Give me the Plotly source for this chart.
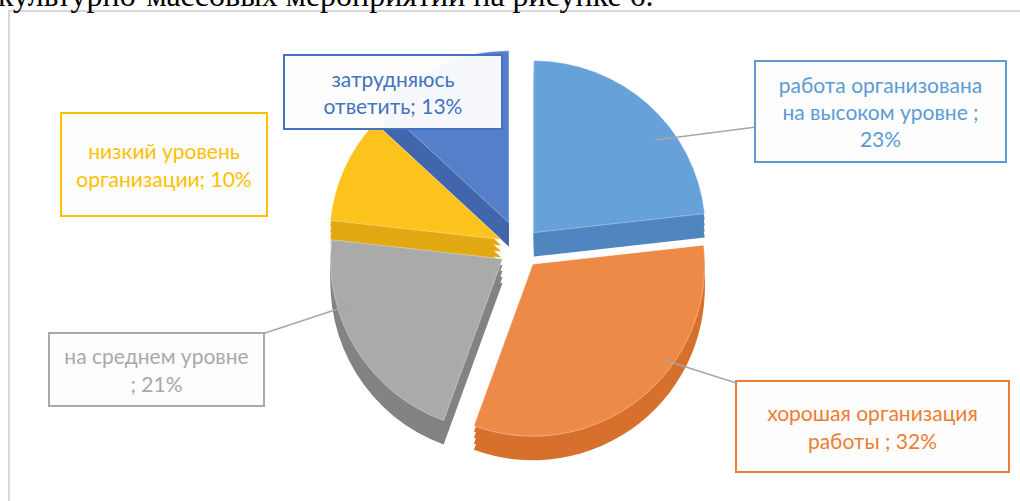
import plotly.graph_objects as go

# ---- data ----
categories = [
    "работа организована на высоком уровне",
    "хорошая организация работы",
    "на среднем уровне",
    "низкий уровень организации",
    "затрудняюсь ответить",
]
values = [23, 32, 21, 10, 13]
label_templates = [
    "работа организована<br>на высоком уровне ;<br>{v}%",
    "хорошая организация<br>работы ; {v}%",
    "на среднем уровне<br>; {v}%",
    "низкий уровень<br>организации; {v}%",
    "затрудняюсь<br>ответить; {v}%",
]
caption_text = "культурно-массовых мероприятий на рисунке 6."

# ---- styles ----
top_colors = ["#67a1d9", "#ee8a47", "#aaaaaa", "#fcc31c", "#5580c9"]
side_colors = ["#4f86c0", "#d6702c", "#838383", "#e2a912", "#4266ab"]
text_colors = ["#5b9bd5", "#ed7d31", "#a9a9a9", "#ffc000", "#4472c4"]
pulls = [0.12, 0.12, 0.12, 0.12, 0.16]

W, H = 1020, 501
R = 172
cx, cy = 520, 248
depth = 24
half = R * (1 + max(pulls))


def dom(px_cx, px_cy):
    return dict(x=[(px_cx - half) / W, (px_cx + half) / W],
                y=[1 - (px_cy + half) / H, 1 - (px_cy - half) / H])


fig = go.Figure()

# side layers (3D thickness)
for k in (1.0, 0.75, 0.5, 0.25):
    fig.add_trace(go.Pie(
        labels=categories, values=values, sort=False, direction="clockwise",
        rotation=0, pull=pulls, textinfo="none", hoverinfo="skip",
        marker=dict(colors=side_colors, line=dict(width=0)),
        domain=dom(cx, cy + depth * k), showlegend=False,
    ))

# top surface
fig.add_trace(go.Pie(
    labels=categories, values=values, sort=False, direction="clockwise",
    rotation=0, pull=pulls, textinfo="none", hoverinfo="label+percent",
    marker=dict(colors=top_colors, line=dict(width=0.6, color="rgba(255,255,255,0.6)")),
    domain=dom(cx, cy), showlegend=False,
))

font_family = "Lato, 'Open Sans', sans-serif"
# box geometry: (center x, center y, box w, box h, target x, target y or None)
boxes = [
    (880, 111, 253, 103, 655, 140),
    (872, 426, 275, 93, 664, 360),
    (156, 369, 217, 75, 350, 305),
    (164, 164, 208, 105, None, None),
    (393, 92, 220, 76, None, None),
]
bw, bp = 2, 4
annotations = []
for i, (bx, by, w, h, tx, ty) in enumerate(boxes):
    txt = label_templates[i].format(v=values[i])
    common = dict(
        text=txt, xref="paper", yref="paper",
        font=dict(family=font_family, size=21, color=text_colors[i]),
        bordercolor=text_colors[i], borderwidth=bw, borderpad=bp,
        bgcolor="rgba(253,253,253,0.96)", width=w - 2 * bp - 2 * bw,
        height=h - 2 * bp - 2 * bw, align="center", valign="middle",
    )
    if tx is not None:
        annotations.append(dict(
            x=tx / W, y=1 - ty / H, showarrow=True, arrowhead=0,
            arrowwidth=1.5, arrowcolor="#a6a6a6",
            axref="pixel", ayref="pixel", ax=bx - tx, ay=by - ty, **common))
    else:
        annotations.append(dict(x=bx / W, y=1 - by / H, showarrow=False,
                                xanchor="center", yanchor="middle", **common))

annotations.append(dict(
    text=caption_text, xref="paper", yref="paper", x=-4 / W, y=1 + 5 / H,
    xanchor="left", yanchor="middle", showarrow=False,
    font=dict(family="'Liberation Serif', 'Times New Roman', serif", size=32, color="#000000"),
))

fig.update_layout(
    width=W, height=H, margin=dict(l=0, r=0, t=0, b=0),
    paper_bgcolor="white", plot_bgcolor="white",
    annotations=annotations,
    shapes=[dict(type="rect", xref="paper", yref="paper",
                 x0=9 / W, x1=1.05, y0=-0.05, y1=1 - 11 / H,
                 line=dict(color="#d9d9d9", width=2), layer="below")],
)

fig.write_html("out.html", config={"displayModeBar": False},
               post_script="document.body.style.margin='0';")
